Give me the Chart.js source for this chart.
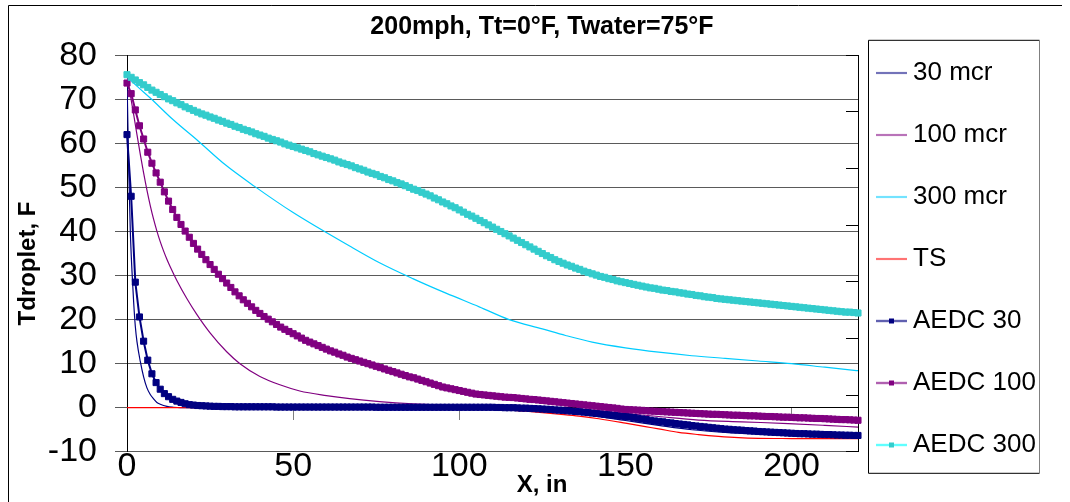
<!DOCTYPE html>
<html>
<head>
<meta charset="utf-8">
<script src="https://cdn.jsdelivr.net/npm/chart.js@4.4.1/dist/chart.umd.min.js"></script>
<style>
html,body{margin:0;padding:0;background:#fff;}
#wrap{width:1070px;height:502px;}
</style>
</head>
<body>
<div id="wrap"><canvas id="c" width="1070" height="502"></canvas></div>
<script>
// ---------- data ----------
const chartTitle = '200mph, Tt=0°F, Twater=75°F';
const xTitle = 'X, in';
const yTitle = 'Tdroplet, F';
const seriesNames = ['30 mcr','100 mcr','300 mcr','TS','AEDC 30','AEDC 100','AEDC 300'];
const xTickValues = [0,50,100,150,200];
const yTickValues = [-10,0,10,20,30,40,50,60,70,80];
const y2TickValues = [0,1,2,3,4,5,6,7];

const s30x = [0,0.5,1,1.5,2,2.5,3,4,5,6,7,8,9,10,12,14,16,20,40,70,100,110,120,130,140,150,160,170,180,190,200,210,220];
const s30y = [75,55,40,31,24,18.5,15,10.5,7,4.5,3,2,1.2,0.8,0.3,0.1,0,0,0,0,0,0,-0.3,-0.9,-1.8,-2.9,-4.0,-5.0,-5.6,-6.0,-6.3,-6.5,-6.6];

const s100x = [0,1,2,3,4,5,6,7,8,9,10,11,12,13,15,18,21,25,30,34,40,46,52,60,67,76,86,96,110,124,135,150,160,172,185,199,210,220];
const s100y = [75,71.0,66.6,62.0,57.5,53.3,49.4,45.9,42.8,40.1,37.7,35.6,33.7,32.0,28.9,24.8,21.2,17.0,12.7,10.0,7.1,5.2,3.8,2.75,2.05,1.4,0.9,0.6,0.3,0.1,-0.3,-1.3,-2.0,-2.8,-3.2,-3.6,-4.0,-4.4];

const s300x = [0,3,7,14,21.5,29.5,38.3,50,67,76,86,96,106,115,125,132,140,150,160,170,180,190,200,210,220];
const s300y = [75.2,73.0,70.3,65.3,60.5,55.2,50.3,44.3,36.7,32.9,29.3,26.0,22.9,20.0,17.9,16.4,14.9,13.6,12.6,11.8,11.2,10.6,10.0,9.2,8.4];

const tsX = [0,100,105,110,115,120,125,130,136,142,150,156,160,166,172,178,184,190,200,220];
const tsY = [0,0,-0.1,-0.25,-0.5,-0.8,-1.1,-1.45,-1.9,-2.5,-3.5,-4.3,-4.8,-5.6,-6.1,-6.5,-6.8,-6.95,-7.0,-7.05];

const xAedc = [
0,1.25,2.5,3.75,5,6.25,7.5,8.75,
10,11.25,12.5,13.75,15,16.25,17.5,18.75,
20,21.25,22.5,23.75,25,26.25,27.5,28.75,
30,31.25,32.5,33.75,35,36.25,37.5,38.75,
40,41.25,42.5,43.75,45,46.25,47.5,48.75,
50,51.25,52.5,53.75,55,56.25,57.5,58.75,
60,61.25,62.5,63.75,65,66.25,67.5,68.75,
70,71.25,72.5,73.75,75,76.25,77.5,78.75,
80,81.25,82.5,83.75,85,86.25,87.5,88.75,
90,91.25,92.5,93.75,95,96.25,97.5,98.75,
100,101.25,102.5,103.75,105,106.25,107.5,108.75,
110,111.25,112.5,113.75,115,116.25,117.5,118.75,
120,121.25,122.5,123.75,125,126.25,127.5,128.75,
130,131.25,132.5,133.75,135,136.25,137.5,138.75,
140,141.25,142.5,143.75,145,146.25,147.5,148.75,
150,151.25,152.5,153.75,155,156.25,157.5,158.75,
160,161.25,162.5,163.75,165,166.25,167.5,168.75,
170,171.25,172.5,173.75,175,176.25,177.5,178.75,
180,181.25,182.5,183.75,185,186.25,187.5,188.75,
190,191.25,192.5,193.75,195,196.25,197.5,198.75,
200,201.25,202.5,203.75,205,206.25,207.5,208.75,
210,211.25,212.5,213.75,215,216.25,217.5,218.75,
220];

const aedc30 = [
62.0,48.0,28.5,20.6,15.1,10.8,7.7,5.7,
4.2,3.2,2.5,1.9,1.5,1.2,0.9,0.7,
0.6,0.5,0.45,0.4,0.35,0.3,0.3,0.25,
0.25,0.25,0.2,0.2,0.2,0.2,0.2,0.2,
0.2,0.2,0.2,0.2,0.15,0.15,0.15,0.15,
0.15,0.15,0.15,0.15,0.15,0.15,0.15,0.15,
0.15,0.15,0.15,0.15,0.15,0.15,0.15,0.15,
0.15,0.15,0.15,0.15,0.1,0.1,0.1,0.1,
0.1,0.1,0.1,0.1,0.1,0.1,0.1,0.1,
0.1,0.1,0.1,0.1,0.1,0.1,0.1,0.1,
0.1,0.1,0.1,0.1,0.1,0.1,0.1,0.1,
0.1,0.05,0.05,0.0,0.0,0.0,-0.05,-0.1,
-0.1,-0.15,-0.2,-0.25,-0.3,-0.35,-0.4,-0.5,
-0.55,-0.6,-0.7,-0.75,-0.85,-0.9,-1.0,-1.1,
-1.2,-1.3,-1.4,-1.5,-1.6,-1.7,-1.8,-1.9,
-2.0,-2.1,-2.25,-2.4,-2.55,-2.7,-2.85,-3.0,
-3.1,-3.2,-3.35,-3.45,-3.6,-3.7,-3.8,-3.9,
-4.05,-4.15,-4.25,-4.35,-4.45,-4.55,-4.65,-4.75,
-4.85,-4.9,-5.0,-5.05,-5.1,-5.2,-5.25,-5.3,
-5.4,-5.45,-5.5,-5.55,-5.6,-5.65,-5.7,-5.75,
-5.8,-5.85,-5.9,-5.9,-5.95,-6.0,-6.0,-6.05,
-6.1,-6.1,-6.15,-6.2,-6.2,-6.25,-6.25,-6.3,
-6.3];

const aedc100 = [
73.7,71.3,67.6,64.0,61.0,58.0,55.5,53.3,
51.2,49.0,46.9,45.0,43.2,41.6,40.1,38.7,
37.3,36.0,34.8,33.6,32.5,31.4,30.3,29.3,
28.3,27.3,26.3,25.4,24.5,23.7,22.9,22.1,
21.4,20.7,20.1,19.5,18.9,18.3,17.8,17.3,
16.8,16.3,15.8,15.3,14.9,14.5,14.1,13.7,
13.3,12.9,12.6,12.2,11.9,11.5,11.2,10.9,
10.6,10.3,10.0,9.7,9.4,9.1,8.8,8.5,
8.2,7.9,7.6,7.3,7.0,6.8,6.5,6.2,
5.9,5.6,5.3,5.0,4.7,4.5,4.3,4.1,
3.9,3.7,3.5,3.3,3.1,3.0,2.9,2.8,
2.7,2.6,2.5,2.4,2.35,2.3,2.2,2.1,
2.0,1.9,1.85,1.75,1.65,1.55,1.45,1.35,
1.25,1.15,1.05,0.95,0.85,0.75,0.65,0.55,
0.45,0.35,0.25,0.15,0.05,-0.05,-0.15,-0.3,
-0.4,-0.45,-0.5,-0.55,-0.6,-0.7,-0.75,-0.8,
-0.85,-0.9,-0.95,-1.0,-1.05,-1.1,-1.15,-1.2,
-1.25,-1.3,-1.35,-1.4,-1.45,-1.5,-1.5,-1.55,
-1.6,-1.65,-1.7,-1.7,-1.75,-1.8,-1.85,-1.85,
-1.9,-1.95,-2.0,-2.0,-2.05,-2.1,-2.15,-2.15,
-2.2,-2.25,-2.3,-2.3,-2.35,-2.4,-2.45,-2.45,
-2.5,-2.55,-2.6,-2.65,-2.7,-2.7,-2.75,-2.8,
-2.85];

const aedc300 = [
75.6,75.0,74.4,73.8,73.3,72.7,72.1,71.6,
71.1,70.6,70.1,69.7,69.2,68.8,68.3,67.9,
67.5,67.1,66.7,66.4,66.0,65.7,65.3,65.0,
64.6,64.3,63.9,63.6,63.2,62.9,62.6,62.2,
61.9,61.6,61.2,60.9,60.6,60.3,59.9,59.6,
59.3,59.0,58.7,58.4,58.1,57.7,57.4,57.1,
56.8,56.5,56.2,55.8,55.5,55.2,54.9,54.5,
54.2,53.9,53.5,53.2,52.9,52.5,52.2,51.8,
51.5,51.1,50.8,50.4,50.0,49.6,49.3,48.9,
48.5,48.1,47.6,47.2,46.7,46.3,45.8,45.4,
44.9,44.4,43.9,43.5,43.0,42.5,42.0,41.5,
41.0,40.5,40.0,39.5,39.0,38.5,38.0,37.5,
37.0,36.5,36.0,35.5,35.0,34.5,34.1,33.6,
33.2,32.8,32.4,32.1,31.7,31.4,31.0,30.7,
30.4,30.1,29.8,29.6,29.3,29.1,28.8,28.6,
28.4,28.2,28.0,27.8,27.6,27.4,27.2,27.1,
26.9,26.7,26.6,26.4,26.3,26.1,26.0,25.8,
25.7,25.5,25.4,25.2,25.1,25.0,24.8,24.7,
24.6,24.5,24.4,24.3,24.2,24.1,24.0,23.9,
23.8,23.7,23.6,23.5,23.4,23.3,23.2,23.1,
23.0,22.9,22.8,22.7,22.6,22.5,22.4,22.3,
22.2,22.1,22.0,21.9,21.8,21.7,21.7,21.6,
21.5];

// ---------- styles ----------
const FONT = "'Liberation Sans', Arial, Helvetica, sans-serif";
const lineColors = ['#000080','#800080','#00CCFF','#FF0000','#000080','#800080','#00FFFF'];
const markerColors = [null,null,null,null,'#000080','#800080','#33CCCC'];
const markedLineWidth = [0,0,0,0,2,2,3];

const pts = (xs, ys) => xs.map((x, i) => ({x: x, y: ys[i]}));

function sample(i) {
  const c = document.createElement('canvas');
  c.width = 31; c.height = 9;
  const g = c.getContext('2d');
  g.strokeStyle = lineColors[i];
  g.lineWidth = markerColors[i] ? 1.5 : 1.2;
  g.beginPath(); g.moveTo(0, 4.5); g.lineTo(31, 4.5); g.stroke();
  if (markerColors[i]) { g.fillStyle = markerColors[i]; g.fillRect(13, 2, 5, 5); }
  return c;
}

const thin = (i, xs, ys, ord) => ({
  label: seriesNames[i], data: pts(xs, ys), borderColor: lineColors[i], backgroundColor: lineColors[i],
  borderWidth: 1.2, pointRadius: 0, cubicInterpolationMode: 'monotone', order: ord
});
const marked = (i, ys, ord) => ({
  label: seriesNames[i], data: pts(xAedc, ys),
  borderColor: i === 6 ? markerColors[i] : lineColors[i], backgroundColor: markerColors[i],
  borderWidth: markedLineWidth[i], pointStyle: 'rect', pointRadius: 4.3, pointBorderWidth: 1,
  pointBackgroundColor: markerColors[i], pointBorderColor: markerColors[i], clip: false, order: ord
});

const datasets = [
  thin(0, s30x, s30y, 7),
  thin(1, s100x, s100y, 6),
  thin(2, s300x, s300y, 5),
  thin(3, tsX, tsY, 4),
  marked(4, aedc30, 3),
  marked(5, aedc100, 2),
  marked(6, aedc300, 1)
];

const decor = {
  id: 'decor',
  beforeDraw(chart) {
    const ctx = chart.ctx, a = chart.chartArea;
    ctx.save();
    ctx.fillStyle = '#fff';
    ctx.fillRect(0, 0, chart.width, chart.height);
    ctx.strokeStyle = '#000'; ctx.lineWidth = 1;
    ctx.beginPath();
    ctx.moveTo(8.5, chart.height + 2); ctx.lineTo(8.5, 5.5); ctx.lineTo(1062, 5.5);
    ctx.stroke();
    // legend frame
    const lx = a.right + 10.5, ly = a.top - 15, lw = 171, lh = 433;
    ctx.fillStyle = '#fff'; ctx.fillRect(lx, ly, lw, lh);
    ctx.strokeStyle = '#000';
    ctx.beginPath(); ctx.moveTo(lx + lw, ly); ctx.lineTo(lx, ly); ctx.lineTo(lx, ly + lh); ctx.lineTo(lx + lw, ly + lh); ctx.stroke();
    ctx.strokeStyle = '#808080';
    ctx.beginPath(); ctx.moveTo(lx + lw, ly); ctx.lineTo(lx + lw, ly + lh); ctx.stroke();
    ctx.restore();
  },
  afterLayout(chart) {
    const lg = chart.legend, a = chart.chartArea;
    if (!lg) return;
    const w = lg.width, h = lg.height;
    lg.left = a.right - 11; lg.right = lg.left + w;
    lg.top = a.top - 31.3; lg.bottom = lg.top + h;
  }
};

const setTicks = (vals) => (axis) => { axis.ticks = vals.map(v => ({value: v})); };

new Chart(document.getElementById('c'), {
  type: 'line',
  data: { datasets: datasets },
  plugins: [decor],
  options: {
    responsive: false,
    animation: false,
    events: [],
    devicePixelRatio: 1,
    layout: { padding: { left: 14, right: 0, top: 0, bottom: 0 } },
    font: { family: FONT },
    scales: {
      x: {
        type: 'linear', position: 'bottom', min: 0, max: 220,
        afterBuildTicks: setTicks(xTickValues),
        afterFit: (s) => { s.height = 50; },
        grid: { display: false, drawTicks: false },
        border: { display: false },
        ticks: { color: '#000', padding: -2, maxRotation: 0, autoSkip: false,
                 font: { family: FONT, size: 34, lineHeight: 1 } }
      },
      x2: {
        type: 'linear', axis: 'x', position: { y: 0 }, min: 0, max: 220,
        afterBuildTicks: setTicks(xTickValues),
        grid: { drawOnChartArea: false, drawTicks: true, tickLength: 12, color: '#808080' },
        border: { display: true, color: '#000', width: 1 },
        ticks: { display: false }
      },
      y: {
        type: 'linear', position: 'left', min: -10, max: 80,
        afterBuildTicks: setTicks(yTickValues),
        afterFit: (s) => { s.width = 113; },
        grid: { color: '#5a5a5a', lineWidth: 1, tickLength: 12, drawTicks: true },
        border: { display: true, color: '#000', width: 1 },
        ticks: { color: '#000', padding: 18, font: { family: FONT, size: 34, lineHeight: 1 } },
        title: { display: true, text: yTitle + '   ', color: '#000', padding: { top: 2, bottom: 0 },
                 font: { family: FONT, size: 24, weight: 'bold', lineHeight: 1 } }
      },
      y2: {
        type: 'linear', position: 'right', min: 0, max: 7,
        afterBuildTicks: setTicks(y2TickValues),
        afterFit: (s) => { s.width = 22; },
        grid: { drawOnChartArea: false, drawTicks: true, tickLength: -12, color: '#000' },
        border: { display: true, color: '#000', width: 1 },
        ticks: { display: false }
      }
    },
    plugins: {
      title: {
        display: true, text: chartTitle, color: '#000',
        padding: { top: 14.5, bottom: 15.8 },
        font: { family: FONT, size: 25, weight: 'bold', lineHeight: 1 }
      },
      subtitle: {
        display: true, position: 'bottom', text: xTitle, color: '#000',
        padding: { top: -17, bottom: 17 },
        font: { family: FONT, size: 24, weight: 'bold', lineHeight: 0.01 }
      },
      legend: {
        display: true, position: 'right', align: 'start', maxWidth: 190,
        labels: {
          color: '#000', usePointStyle: true, pointStyleWidth: 17, padding: 36,
          font: { family: FONT, size: 26 },
          generateLabels: (chart) => chart.data.datasets.map((d, i) => ({
            text: d.label, pointStyle: sample(i), fillStyle: 'rgba(0,0,0,0)',
            strokeStyle: 'rgba(0,0,0,0)', lineWidth: 0, hidden: false, datasetIndex: i
          }))
        }
      },
      tooltip: { enabled: false }
    }
  }
});
</script>
</body>
</html>
